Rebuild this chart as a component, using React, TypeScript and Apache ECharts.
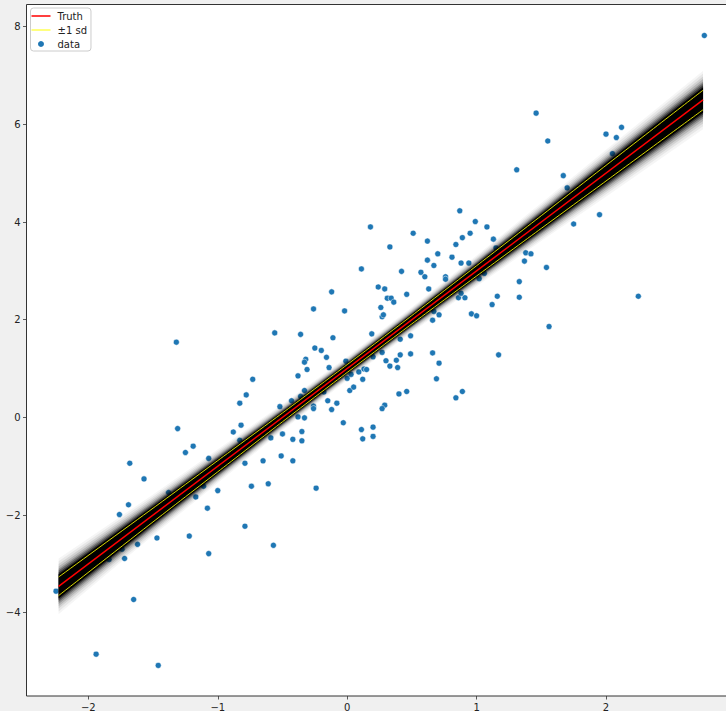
import React, { useEffect, useRef } from "react";
import * as echarts from "echarts";

// tick labels
const xTicks = [-2, -1, 0, 1, 2];
const yTicks = [-4, -2, 0, 2, 4, 6, 8];

const dataX = [
  -1.32, -0.56, -0.36, -0.11, -0.25, -0.2, -0.16, -0.32, -0.33, -0.14, -0.31, -0.73, -0.38, -0.01, 0.0, 0.02,
  -0.33, -0.36, -0.43, -0.78, -0.83, -0.52, -0.26, -0.26, -0.15, -0.18, -0.08, -0.12, -0.38, -0.33, -0.03, -0.82,
  -0.88, -1.31, -0.5, -0.35, -0.59, -0.42, -0.35, -0.83, -1.19, -1.25, -1.07, -0.51, -0.42, -0.65, -0.79, -1.68,
  -1.57, -0.74, -0.61, -0.24, -1.11, -1.0, -1.38, -1.17, -1.69, -1.76, -1.08, -0.79, -1.22, -1.47, -0.57, -1.07,
  -1.62, -1.74, -1.72, -1.84, -1.65, -2.25, -1.94, -1.46,
  0.18, 0.51, 0.62, 0.33, 0.7, 0.62, 0.67, 0.11, 0.42, 0.57, 0.6, 0.63, 0.24, 0.29, -0.12, 0.46,
  0.31, 0.34, 0.36, -0.26, -0.02, 0.26, 0.27, 0.28, 0.67, 0.71, 0.66, 0.19, 0.41, 0.49, 0.27, 0.3,
  0.33, 0.38, 0.41, 0.49, 0.39, 0.2, 0.13, 0.15, 0.09, 0.03, 0.12, 0.05, 0.66, 0.71, 0.69, 0.46,
  0.4, 0.29, 0.27, 0.11, 0.2, 0.12, 0.2,
  2.76, 1.46, 1.55, 2.0, 2.12, 2.08, 2.05, 1.31, 1.67, 1.7, 1.95, 1.75, 0.87, 0.99, 1.08, 0.95,
  0.89, 0.84, 1.13, 1.15, 0.81, 0.88, 0.94, 1.38, 1.42, 1.37, 1.54, 0.76, 0.76, 1.02, 1.06, 1.33,
  1.33, 1.16, 1.12, 0.91, 0.86, 0.88, 0.96, 1.0, 2.25, 1.56, 1.17, 0.89, 0.84,
];
const dataY = [
  1.54, 1.73, 1.7, 1.63, 1.42, 1.37, 1.23, 1.19, 1.13, 1.02, 0.98, 0.78, 0.85, 1.15, 0.8, 0.55,
  0.55, 0.43, 0.34, 0.46, 0.29, 0.22, 0.23, 0.18, 0.34, 0.52, 0.29, 0.16, 0.01, -0.01, -0.11, -0.16,
  -0.3, -0.23, -0.34, -0.29, -0.42, -0.45, -0.48, -0.47, -0.59, -0.72, -0.84, -0.79, -0.89, -0.89, -0.94, -0.94,
  -1.26, -1.41, -1.36, -1.45, -1.41, -1.5, -1.54, -1.63, -1.79, -1.99, -1.86, -2.23, -2.43, -2.47, -2.62, -2.79,
  -2.6, -2.7, -2.89, -2.91, -3.73, -3.56, -4.85, -5.08,
  3.9, 3.77, 3.61, 3.49, 3.35, 3.22, 3.11, 3.04, 2.99, 2.97, 2.88, 2.63, 2.67, 2.63, 2.57, 2.52,
  2.44, 2.44, 2.36, 2.22, 2.18, 2.25, 2.06, 2.1, 2.17, 2.1, 1.99, 1.71, 1.6, 1.67, 1.33, 1.16,
  1.05, 1.17, 1.28, 1.3, 1.02, 1.24, 0.99, 0.98, 0.93, 0.88, 0.78, 0.62, 1.32, 1.11, 0.79, 0.53,
  0.48, 0.25, 0.18, -0.25, -0.2, -0.44, -0.39,
  7.82, 6.23, 5.66, 5.8, 5.94, 5.73, 5.4, 5.07, 4.95, 4.7, 4.15, 3.96, 4.23, 4.01, 3.9, 3.77,
  3.68, 3.54, 3.65, 3.47, 3.28, 3.16, 3.16, 3.37, 3.35, 3.2, 3.07, 2.88, 2.83, 2.84, 2.95, 2.78,
  2.46, 2.48, 2.31, 2.45, 2.45, 2.54, 2.12, 2.08, 2.48, 1.86, 1.28, 0.53, 0.4,
];

// true line end points
const truthX = [-2.23, 2.75];
const truthY = [-3.46, 6.5];

// posterior mean and ±1 sd half-width along x
const bandX = [-2.23, -1.5, -1.0, -0.5, 0, 0.5, 1.0, 1.5, 2.0, 2.75];
const bandMean = [-3.46, -2.0, -1.0, 0.0, 1.0, 2.0, 3.0, 4.0, 5.0, 6.5];
const bandSd = [0.19, 0.14, 0.115, 0.09, 0.08, 0.085, 0.105, 0.13, 0.16, 0.2];

// shading layers of the sampled-line cloud (in sd units) and their opacities
const bandLevels = [3.0, 2.7, 2.4, 2.15, 1.9, 1.7, 1.5, 1.3];
const bandAlpha = [0.04, 0.06, 0.09, 0.13, 0.2, 0.3, 0.45, 1];

const FONT = "DejaVu Sans";
const fmt = (v: number) => (v < 0 ? "\u2212" + Math.abs(v) : String(v));

// legend line icons: thin bar inside a 19x6 box (tiny corner marks fix the bounds)
const lineIcon = (half: number) =>
  `path://M0 0h0.01v0.01h-0.01zM18.99 5.99h0.01v0.01h-0.01zM0 ${3 - half}H19V${3 + half}H0z`;

export default function App() {
  const ref = useRef<HTMLDivElement>(null);
  useEffect(() => {
    if (!ref.current) return;
    const chart = echarts.init(ref.current, null, { renderer: "svg" });
    const upper = bandX.map((x, j) => [x, bandMean[j] + bandSd[j]]);
    const lower = bandX.map((x, j) => [x, bandMean[j] - bandSd[j]]);
    const axisCommon = {
      type: "value",
      axisLine: { show: false, onZero: false },
      splitLine: { show: false },
    };
    chart.setOption({
      animation: false,
      backgroundColor: "#f0f0f0",
      grid: {
        left: 26.5,
        top: 4.5,
        width: 708.9,
        height: 691.5,
        show: true,
        backgroundColor: "#ffffff",
        borderColor: "#333",
        borderWidth: 1,
        containLabel: false,
        outerBoundsMode: "none",
      },
      legend: {
        left: 30.5,
        top: 8,
        orient: "vertical",
        selectedMode: false,
        data: [
          { name: "Truth", icon: lineIcon(0.75), itemStyle: { color: "#ff0000", borderWidth: 0, opacity: 1 } },
          { name: "±1 sd", icon: lineIcon(0.55), itemStyle: { color: "#ffff00", borderWidth: 0, opacity: 1 } },
          { name: "data", icon: "circle", itemStyle: { color: "#1f77b4", borderWidth: 0, opacity: 1 } },
        ],
        itemWidth: 19,
        itemHeight: 6,
        itemGap: 2,
        padding: [2, 4, 1, 1],
        backgroundColor: "rgba(255,255,255,0.8)",
        borderColor: "#cccccc",
        borderWidth: 1,
        borderRadius: 3,
        textStyle: { fontFamily: FONT, fontSize: 10, color: "#222", lineHeight: 12, padding: [0, 0, 0, 2] },
      },
      xAxis: {
        ...axisCommon,
        min: -2.478,
        max: 3.0,
        axisTick: { show: true, length: 3.5, lineStyle: { color: "#333", width: 0.8 }, customValues: xTicks },
        axisLabel: { customValues: xTicks, formatter: fmt, margin: 6, fontSize: 10, fontFamily: FONT, color: "#222" },
      },
      yAxis: {
        ...axisCommon,
        min: -5.706,
        max: 8.455,
        axisTick: { show: true, length: 3.5, lineStyle: { color: "#333", width: 0.8 }, customValues: yTicks },
        axisLabel: { customValues: yTicks, formatter: fmt, margin: 6, fontSize: 10, fontFamily: FONT, color: "#222" },
      },
      series: [
        {
          type: "scatter",
          name: "data",
          z: 2,
          symbol: "circle",
          symbolSize: 6,
          itemStyle: { color: "#1f77b4", opacity: 1, borderColor: "#ffffff", borderWidth: 0.5 },
          data: dataX.map((x, i) => [x, dataY[i]]),
        },
        {
          type: "custom",
          z: 3,
          silent: true,
          data: bandLevels.map((k, i) => [0, 0, i]),
          encode: { x: 0, y: 1 },
          renderItem: (params: any, api: any) => {
            const i = api.value(2);
            const k = bandLevels[i];
            const up = bandX.map((x, j) => api.coord([x, bandMean[j] + k * bandSd[j]]));
            const lo = bandX.map((x, j) => api.coord([x, bandMean[j] - k * bandSd[j]])).reverse();
            return {
              type: "polygon",
              shape: { points: up.concat(lo) },
              style: { fill: `rgba(0,0,0,${bandAlpha[i]})` },
            };
          },
        },
        {
          type: "line",
          name: "±1 sd",
          z: 4,
          symbol: "none",
          smooth: 0.2,
          lineStyle: { color: "#d8d800", width: 1 },
          itemStyle: { color: "#ffff00" },
          data: upper,
        },
        {
          type: "line",
          name: "±1 sd",
          z: 4,
          symbol: "none",
          smooth: 0.2,
          lineStyle: { color: "#d8d800", width: 1 },
          itemStyle: { color: "#ffff00" },
          data: lower,
        },
        {
          type: "line",
          name: "Truth",
          z: 5,
          symbol: "none",
          lineStyle: { color: "#ff0000", width: 1.5 },
          itemStyle: { color: "#ff0000" },
          data: truthX.map((x, i) => [x, truthY[i]]),
        },
      ],
    });
    return () => chart.dispose();
  }, []);
  return (
    <div
      ref={ref}
      style={{ position: "fixed", left: 0, top: 0, width: 726, height: 711, background: "#f0f0f0" }}
    />
  );
}
